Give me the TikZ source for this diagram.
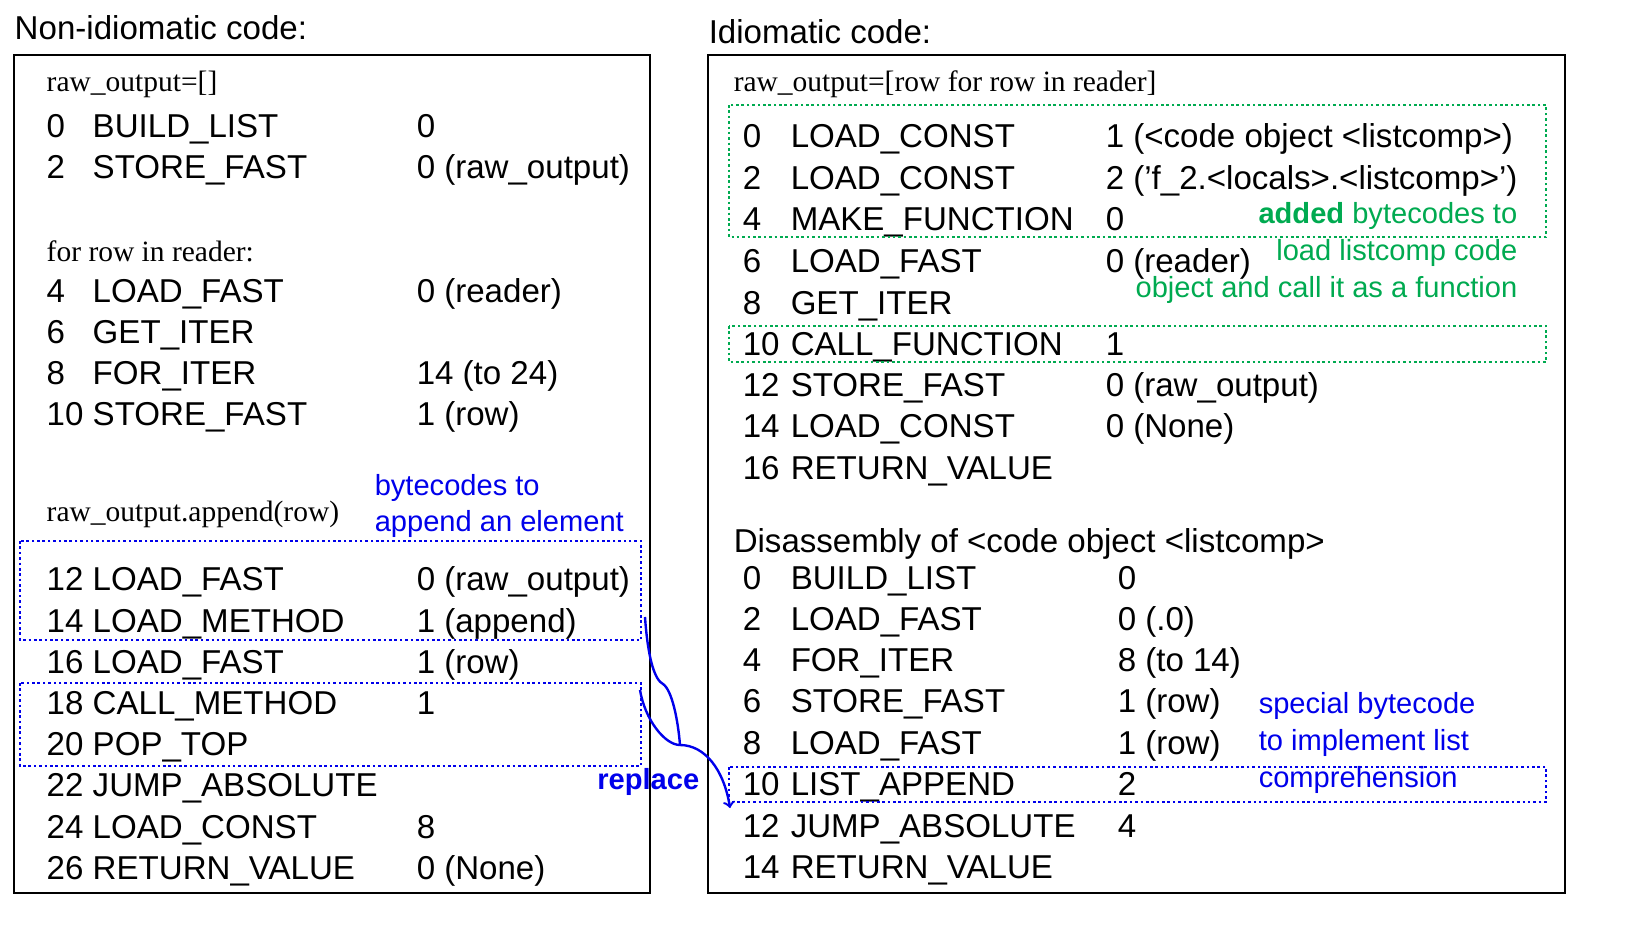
\documentclass[tikz,border=0pt]{standalone}
\usepackage{fontspec}
\setmainfont{Liberation Sans}
\newfontfamily\timesf{Liberation Serif}
\usetikzlibrary{positioning}
\definecolor{dgreen}{RGB}{0,170,80}
\definecolor{dblue}{RGB}{0,0,235}
\begin{document}
\begin{tikzpicture}[x=0.5bp, y=-0.5bp, line width=0.75pt,
    code/.style={anchor=base west, inner sep=0pt, font=\fontsize{16.6}{20}\selectfont},
    src/.style={anchor=base west, inner sep=0pt, font=\timesf\fontsize{14.8}{17}\selectfont},
    note/.style={inner sep=0pt, font=\fontsize{14.6}{18.5}\selectfont},
    panel/.style={draw, line width=0.75pt},
    greenbox/.style={draw=dgreen, line width=1.3pt, dash pattern=on 1.3pt off 1.4pt},
    bluebox/.style={draw=dblue, line width=1.3pt, dash pattern=on 1.3pt off 1.4pt}]
    \useasboundingbox (0,0) rectangle (1642,946);

    % Headings and panels
    \node (hleft) [code] at (14,39) {Non-idiomatic code:};
    \node (hright) [code] at (708,43) {Idiomatic code:};
    \draw[panel] (14,55) rectangle (650,893);
    \draw[panel] (708,55) rectangle (1565,893);

    % Left panel
    \node (s1) [src] at (46,91) {raw\_output=[]};
    \node (s2) [src] at (46,261) {for row in reader:};
    \node (s3) [src] at (46,521) {raw\_output.append(row)};
    \foreach \y/\n/\op/\arg in {125/0/BUILD\_LIST/0, 166/2/STORE\_FAST/0 (raw\_output),
        290/4/LOAD\_FAST/0 (reader), 331/6/GET\_ITER/, 372/8/FOR\_ITER/14 (to 24),
        413/10/STORE\_FAST/1 (row), 578/12/LOAD\_FAST/0 (raw\_output),
        620/14/LOAD\_METHOD/1 (append), 661/16/LOAD\_FAST/1 (row),
        702/18/CALL\_METHOD/1, 743/20/POP\_TOP/, 784/22/JUMP\_ABSOLUTE/,
        826/24/LOAD\_CONST/8, 867/26/RETURN\_VALUE/0 (None)} {
        \node [code] at (46,\y+12) {\n};
        \node [code] at (92,\y+12) {\op};
        \node [code] at (416,\y+12) {\arg};
    }
    \node (nappend) [note, text=dblue, align=left, anchor=west] at (374,506)
        {bytecodes to\\append an element};
    \node (nreplace) [note, text=dblue, anchor=east, font=\bfseries\fontsize{14.6}{18}\selectfont] at (700,782) {replace};
    \draw[bluebox] (20,541) rectangle (641,640);
    \draw[bluebox] (20,683) rectangle (641,766);

    % Right panel
    \node (s4) [src] at (733,91) {raw\_output=[row for row in reader]};
    \foreach \y/\n/\op/\arg in {135/0/LOAD\_CONST/1 (<code object <listcomp>),
        177/2/LOAD\_CONST/2 ('f\_2.<locals>.<listcomp>'), 218/4/MAKE\_FUNCTION/0,
        260/6/LOAD\_FAST/0 (reader), 302/8/GET\_ITER/, 343/10/CALL\_FUNCTION/1,
        384/12/STORE\_FAST/0 (raw\_output), 425/14/LOAD\_CONST/0 (None),
        467/16/RETURN\_VALUE/} {
        \node [code] at (742,\y+12) {\n};
        \node [code] at (790,\y+12) {\op};
        \node [code] at (1105,\y+12) {\arg};
    }
    \node (dis) [code] at (733,552) {Disassembly of <code object <listcomp>};
    \foreach \y/\n/\op/\arg in {577/0/BUILD\_LIST/0, 618/2/LOAD\_FAST/0 (.0),
        659/4/FOR\_ITER/8 (to 14), 700/6/STORE\_FAST/1 (row), 742/8/LOAD\_FAST/1 (row),
        783/10/LIST\_APPEND/2, 825/12/JUMP\_ABSOLUTE/4, 866/14/RETURN\_VALUE/} {
        \node [code] at (742,\y+12) {\n};
        \node [code] at (790,\y+12) {\op};
        \node [code] at (1117,\y+12) {\arg};
    }
    \node (nadded) [note, text=dgreen, align=right, anchor=north east] at (1518,202)
        {\textbf{added} bytecodes to\\load listcomp code\\object and call it as a function};
    \node (nspecial) [note, text=dblue, align=left, anchor=north west] at (1258,692)
        {special bytecode\\to implement list\\comprehension};
    \draw[greenbox] (729,105) rectangle (1546,237);
    \draw[greenbox] (729,326) rectangle (1546,362);
    \draw[bluebox] (729,767) rectangle (1546,802);

    % Replace arrow
    \coordinate (a1) at (645,617);
    \coordinate (a2) at (640,690);
    \coordinate (mid) at (680,745);
    \coordinate (tgt) at (730,808);
    \draw[dblue, line width=1.2pt] (a1) .. controls (648,660) and (655,680) .. (663,684)
        .. controls (672,690) and (678,720) .. (mid);
    \draw[dblue, line width=1.2pt] (a2) .. controls (645,720) and (665,745) .. (mid);
    \draw[dblue, line width=1.2pt, ->] (mid) .. controls (705,745) and (724,770) .. (tgt);
\end{tikzpicture}
\end{document}
